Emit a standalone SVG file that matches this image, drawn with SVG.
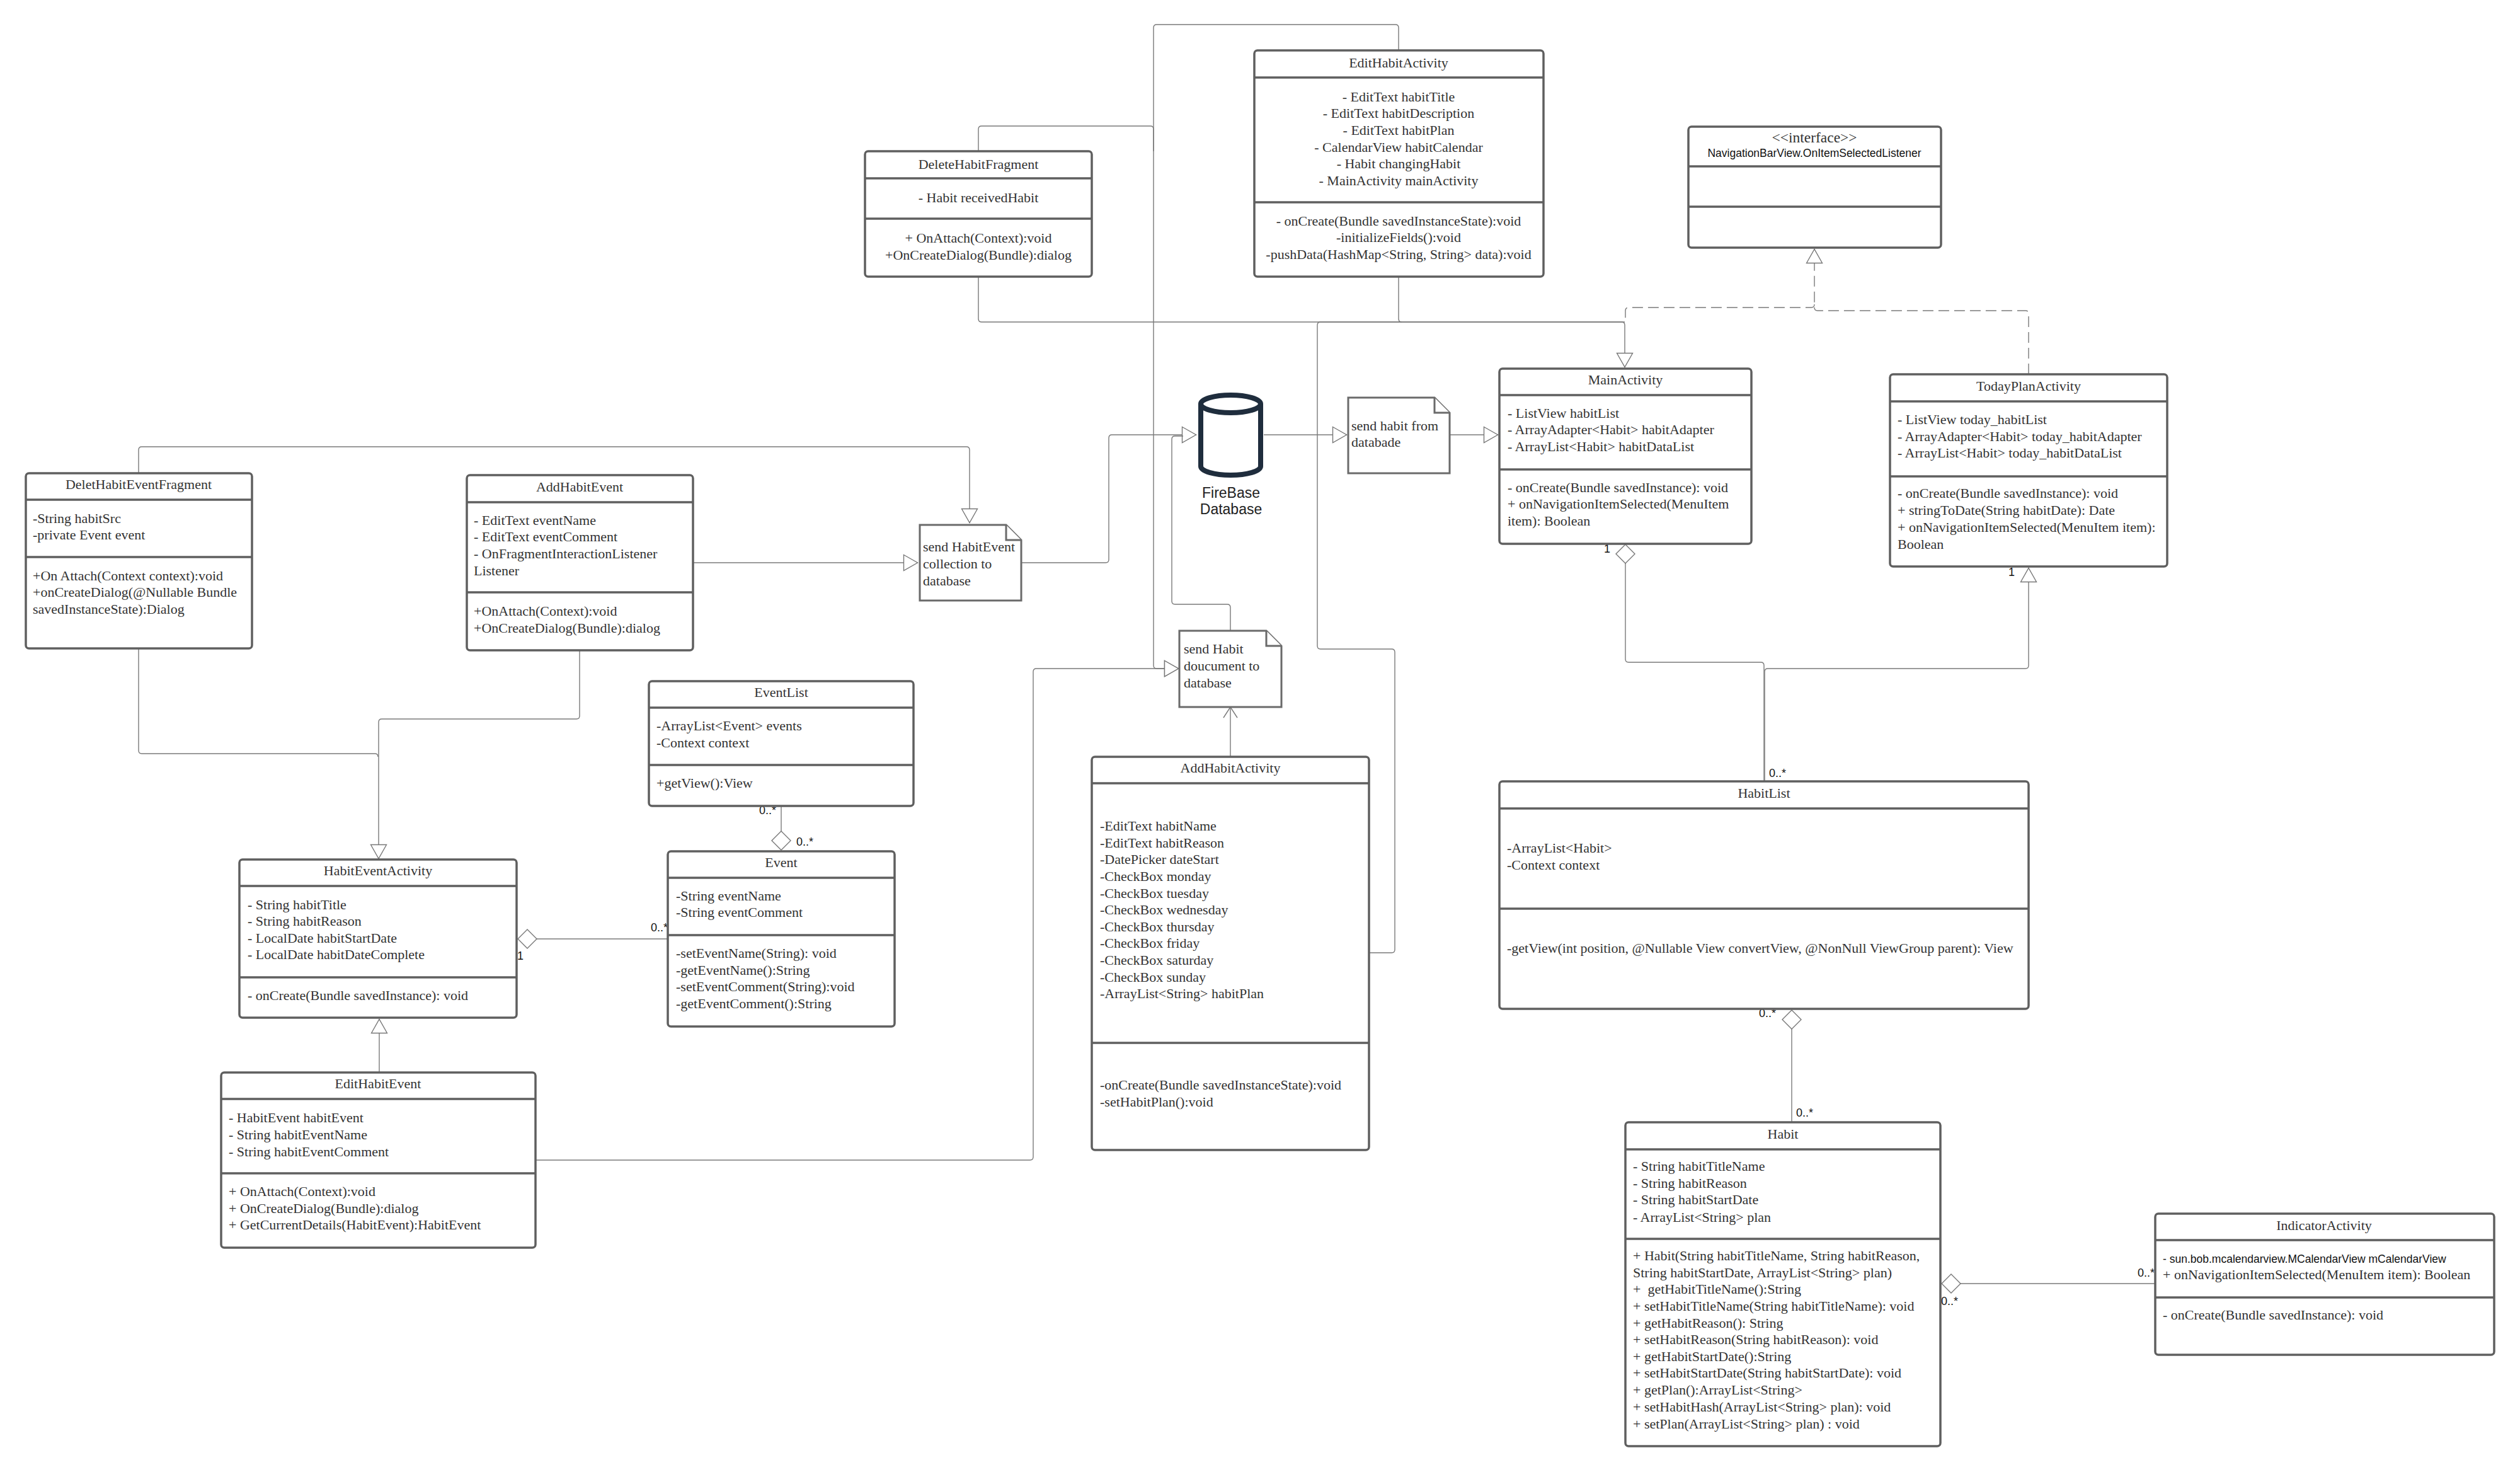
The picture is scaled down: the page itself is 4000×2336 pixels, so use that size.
<svg xmlns="http://www.w3.org/2000/svg" width="4000" height="2336" viewBox="0 0 4000 2336">
<style>
.bg{fill:#fff}
.box{fill:#fff;stroke:#5f5f5f;stroke-width:3.5}
.div{fill:none;stroke:#5f5f5f;stroke-width:3.5}
.note{fill:#fff;stroke:#6a6a6a;stroke-width:3}
.cyl{fill:#fff;stroke:#1f2d3d;stroke-width:8}
.con{fill:none;stroke:#7a7a7a;stroke-width:1.4}
.dash{stroke-dasharray:17 8}
text{font-family:"Liberation Serif","Times New Roman",serif;font-size:22px;fill:#333}
.c{text-anchor:middle}
.s{font-family:"Liberation Sans",Arial,sans-serif;fill:#111}
.m{font-size:18px}
.l{font-size:17.5px}
.db{font-size:23px;fill:#222}
</style>
<defs>
<marker id="tri" markerUnits="userSpaceOnUse" markerWidth="26" markerHeight="30" refX="24" refY="15" orient="auto"><path d="M1.5 2.5L23.500 15L1.500 27.500Z" fill="#fff" stroke="#777" stroke-width="1.400"/></marker>
<marker id="open" markerUnits="userSpaceOnUse" markerWidth="20" markerHeight="28" refX="18" refY="14" orient="auto"><path d="M1 3L18 14L1 25" fill="none" stroke="#777" stroke-width="1.400"/></marker>
<marker id="dia" markerUnits="userSpaceOnUse" markerWidth="34" markerHeight="34" refX="1" refY="17" orient="auto"><path d="M1 17L16 2L31 17L16 32Z" fill="#fff" stroke="#777" stroke-width="1.400"/></marker>
</defs>
<rect class="bg" width="4000" height="2336"/>
<g id="connectors">
<path class="con" marker-end="url(#tri)" d="M2220 80V44Q2220 39 2215 39H1836Q1831 39 1831 44V1056Q1831 1061 1836 1061H1871"/>
<path class="con" d="M1553 240V205Q1553 200 1558 200H1826Q1831 200 1831 205V240"/>
<path class="con" marker-end="url(#tri)" d="M1553 439V506Q1553 511 1558 511H2574Q2579 511 2579 516V583"/>
<path class="con" d="M2220 439V506Q2220 511 2225 511"/>
<path class="con" d="M2579 511H2096Q2091 511 2091 516V1025Q2091 1030 2096 1030H2209Q2214 1030 2214 1035V1507Q2214 1512 2209 1512H2173"/>
<path class="con" marker-end="url(#tri)" d="M2006 690H2138"/>
<path class="con" marker-end="url(#tri)" d="M2301 690H2378"/>
<path class="con" marker-end="url(#tri)" d="M220 750V714Q220 709 225 709H1534Q1539 709 1539 714V830"/>
<path class="con" marker-end="url(#tri)" d="M1100 893H1457"/>
<path class="con" marker-end="url(#tri)" d="M1621 893H1755Q1760 893 1760 888V695Q1760 690 1765 690H1899"/>
<path class="con" d="M1953 1001V964Q1953 959 1948 959H1865Q1860 959 1860 954V697Q1860 692 1865 692H1878"/>
<path class="con" marker-end="url(#tri)" d="M850 1841H1635Q1640 1841 1640 1836V1066Q1640 1061 1645 1061H1871"/>
<path class="con" marker-end="url(#open)" d="M1953 1201V1122"/>
<path class="con" d="M220 1029V1191Q220 1196 225 1196H595Q600 1196 600 1201"/>
<path class="con" marker-end="url(#tri)" d="M920 1032V1136Q920 1141 915 1141H606Q601 1141 601 1146V1363"/>
<path class="con" marker-end="url(#tri)" d="M602 1702V1617"/>
<path class="con" marker-start="url(#dia)" d="M1240 1349V1279"/>
<path class="con" marker-start="url(#dia)" d="M822 1490H1060"/>
<path class="con dash" marker-end="url(#tri)" d="M3220 594V498Q3220 493 3215 493H2885Q2880 493 2880 488V395"/>
<path class="con dash" d="M2880 483Q2880 488 2875 488H2585Q2580 488 2580 493V511"/>
<path class="con" marker-start="url(#dia)" d="M2580 864V1046Q2580 1051 2585 1051H2795Q2800 1051 2800 1056V1240"/>
<path class="con" marker-end="url(#tri)" d="M2801 1240V1066Q2801 1061 2806 1061H3215Q3220 1061 3220 1056V901"/>
<path class="con" marker-start="url(#dia)" d="M2844 1603V1781"/>
<path class="con" marker-start="url(#dia)" d="M3082 2037H3421"/>
</g>
<g id="multiplicities">
<text class="s m" x="1205" y="1292">0..*</text>
<text class="s m" x="1264" y="1342">0..*</text>
<text class="s m" x="1033" y="1478">0..*</text>
<text class="s m" x="821" y="1523">1</text>
<text class="s m" x="2546" y="877">1</text>
<text class="s m" x="3188" y="914">1</text>
<text class="s m" x="2808" y="1233">0..*</text>
<text class="s m" x="2792" y="1614">0..*</text>
<text class="s m" x="2851" y="1772">0..*</text>
<text class="s m" x="3393" y="2026">0..*</text>
<text class="s m" x="3081" y="2071">0..*</text>
</g>
<g id="EditHabitActivity">
<rect class="box" x="1991" y="80" width="459" height="359" rx="5"/>
<path class="div" d="M1991 123H2450M1991 321H2450"/>
<text class="c" x="2220" y="107">EditHabitActivity</text>
<text class="c" x="2220" y="161">- EditText habitTitle</text>
<text class="c" x="2220" y="187">- EditText habitDescription</text>
<text class="c" x="2220" y="214">- EditText habitPlan</text>
<text class="c" x="2220" y="241">- CalendarView habitCalendar</text>
<text class="c" x="2220" y="267">- Habit changingHabit</text>
<text class="c" x="2220" y="294">- MainActivity mainActivity</text>
<text class="c" x="2220" y="358">- onCreate(Bundle savedInstanceState):void</text>
<text class="c" x="2220" y="384">-initializeFields():void</text>
<text class="c" x="2220" y="411">-pushData(HashMap&lt;String, String&gt; data):void</text>
</g>
<g id="DeleteHabitFragment">
<rect class="box" x="1373" y="240" width="360" height="199" rx="5"/>
<path class="div" d="M1373 283H1733M1373 347H1733"/>
<text class="c" x="1553" y="268">DeleteHabitFragment</text>
<text class="c" x="1553" y="321">- Habit receivedHabit</text>
<text class="c" x="1553" y="385">+ OnAttach(Context):void</text>
<text class="c" x="1553" y="412">+OnCreateDialog(Bundle):dialog</text>
</g>
<g id="NavigationBarView">
<rect class="box" x="2680" y="201" width="401" height="192" rx="5"/>
<path class="div" d="M2680 264H3081M2680 328H3081"/>
<text class="c" style="font-size:23.5px" x="2880" y="226">&lt;&lt;interface&gt;&gt;</text>
<text class="c s l" x="2880" y="249">NavigationBarView.OnItemSelectedListener</text>
</g>
<g id="MainActivity">
<rect class="box" x="2380" y="585" width="400" height="278" rx="5"/>
<path class="div" d="M2380 627H2780M2380 745H2780"/>
<text class="c" x="2580" y="610">MainActivity</text>
<text x="2393" y="663">- ListView habitList</text>
<text x="2393" y="689">- ArrayAdapter&lt;Habit&gt; habitAdapter</text>
<text x="2393" y="716">- ArrayList&lt;Habit&gt; habitDataList</text>
<text x="2393" y="781">- onCreate(Bundle savedInstance): void</text>
<text x="2393" y="807">+ onNavigationItemSelected(MenuItem</text>
<text x="2393" y="834">item): Boolean</text>
</g>
<g id="TodayPlanActivity">
<rect class="box" x="3000" y="594" width="440" height="305" rx="5"/>
<path class="div" d="M3000 637H3440M3000 756H3440"/>
<text class="c" x="3220" y="620">TodayPlanActivity</text>
<text x="3012" y="673">- ListView today_habitList</text>
<text x="3012" y="700">- ArrayAdapter&lt;Habit&gt; today_habitAdapter</text>
<text x="3012" y="726">- ArrayList&lt;Habit&gt; today_habitDataList</text>
<text x="3012" y="790">- onCreate(Bundle savedInstance): void</text>
<text x="3012" y="817">+ stringToDate(String habitDate): Date</text>
<text x="3012" y="844">+ onNavigationItemSelected(MenuItem item):</text>
<text x="3012" y="871">Boolean</text>
</g>
<g id="FireBaseDatabase">
<path class="cyl" d="M1906 641a47.500 14 0 0 1 95 0a47.500 14 0 0 1-95 0v99a47.500 14 0 0 0 95 0v-99"/>
<text class="c s db" x="1954" y="790">FireBase</text>
<text class="c s db" x="1954" y="816">Database</text>
</g>
<g id="NoteSendHabitFromDatabase">
<path class="note" d="M2140 631H2277L2301 655V751H2140Z"/>
<path class="note" d="M2277 631V655H2301"/>
<text x="2145" y="683">send habit from</text>
<text x="2145" y="709">databade</text>
</g>
<g id="NoteSendHabitEvent">
<path class="note" d="M1460 833H1597L1621 857V953H1460Z"/>
<path class="note" d="M1597 833V857H1621"/>
<text x="1465" y="875">send HabitEvent</text>
<text x="1465" y="902">collection to</text>
<text x="1465" y="929">database</text>
</g>
<g id="NoteSendHabitDocument">
<path class="note" d="M1872 1001H2010L2034 1025V1122H1872Z"/>
<path class="note" d="M2010 1001V1025H2034"/>
<text x="1879" y="1037">send Habit</text>
<text x="1879" y="1064">doucument to</text>
<text x="1879" y="1091">database</text>
</g>
<g id="AddHabitActivity">
<rect class="box" x="1733" y="1201" width="440" height="624" rx="5"/>
<path class="div" d="M1733 1243H2173M1733 1655H2173"/>
<text class="c" x="1953" y="1226">AddHabitActivity</text>
<text x="1746" y="1318">-EditText habitName</text>
<text x="1746" y="1345">-EditText habitReason</text>
<text x="1746" y="1371">-DatePicker dateStart</text>
<text x="1746" y="1398">-CheckBox monday</text>
<text x="1746" y="1425">-CheckBox tuesday</text>
<text x="1746" y="1451">-CheckBox wednesday</text>
<text x="1746" y="1478">-CheckBox thursday</text>
<text x="1746" y="1504">-CheckBox friday</text>
<text x="1746" y="1531">-CheckBox saturday</text>
<text x="1746" y="1558">-CheckBox sunday</text>
<text x="1746" y="1584">-ArrayList&lt;String&gt; habitPlan</text>
<text x="1746" y="1729">-onCreate(Bundle savedInstanceState):void</text>
<text x="1746" y="1756">-setHabitPlan():void</text>
</g>
<g id="DeletHabitEventFragment">
<rect class="box" x="41" y="751" width="359" height="278" rx="5"/>
<path class="div" d="M41 793H400M41 884H400"/>
<text class="c" x="220" y="776">DeletHabitEventFragment</text>
<text x="52" y="830">-String habitSrc</text>
<text x="52" y="856">-private Event event</text>
<text x="52" y="921">+On Attach(Context context):void</text>
<text x="52" y="947">+onCreateDialog(@Nullable Bundle</text>
<text x="52" y="974">savedInstanceState):Dialog</text>
</g>
<g id="AddHabitEvent">
<rect class="box" x="741" y="754" width="359" height="278" rx="5"/>
<path class="div" d="M741 797H1100M741 940H1100"/>
<text class="c" x="920" y="780">AddHabitEvent</text>
<text x="752" y="833">- EditText eventName</text>
<text x="752" y="859">- EditText eventComment</text>
<text x="752" y="886">- OnFragmentInteractionListener</text>
<text x="752" y="913">Listener</text>
<text x="752" y="977">+OnAttach(Context):void</text>
<text x="752" y="1004">+OnCreateDialog(Bundle):dialog</text>
</g>
<g id="EventList">
<rect class="box" x="1030" y="1081" width="420" height="198" rx="5"/>
<path class="div" d="M1030 1123H1450M1030 1214H1450"/>
<text class="c" x="1240" y="1106">EventList</text>
<text x="1042" y="1159">-ArrayList&lt;Event&gt; events</text>
<text x="1042" y="1186">-Context context</text>
<text x="1042" y="1250">+getView():View</text>
</g>
<g id="Event">
<rect class="box" x="1060" y="1351" width="360" height="278" rx="5"/>
<path class="div" d="M1060 1393H1420M1060 1484H1420"/>
<text class="c" x="1240" y="1376">Event</text>
<text x="1073" y="1429">-String eventName</text>
<text x="1073" y="1455">-String eventComment</text>
<text x="1073" y="1520">-setEventName(String): void</text>
<text x="1073" y="1547">-getEventName():String</text>
<text x="1073" y="1573">-setEventComment(String):void</text>
<text x="1073" y="1600">-getEventComment():String</text>
</g>
<g id="HabitEventActivity">
<rect class="box" x="380" y="1364" width="440" height="251" rx="5"/>
<path class="div" d="M380 1406H820M380 1551H820"/>
<text class="c" x="600" y="1389">HabitEventActivity</text>
<text x="393" y="1443">- String habitTitle</text>
<text x="393" y="1469">- String habitReason</text>
<text x="393" y="1496">- LocalDate habitStartDate</text>
<text x="393" y="1522">- LocalDate habitDateComplete</text>
<text x="393" y="1587">- onCreate(Bundle savedInstance): void</text>
</g>
<g id="EditHabitEvent">
<rect class="box" x="351" y="1702" width="499" height="278" rx="5"/>
<path class="div" d="M351 1744H850M351 1862H850"/>
<text class="c" x="600" y="1727">EditHabitEvent</text>
<text x="363" y="1781">- HabitEvent habitEvent</text>
<text x="363" y="1808">- String habitEventName</text>
<text x="363" y="1835">- String habitEventComment</text>
<text x="363" y="1898">+ OnAttach(Context):void</text>
<text x="363" y="1925">+ OnCreateDialog(Bundle):dialog</text>
<text x="363" y="1951">+ GetCurrentDetails(HabitEvent):HabitEvent</text>
</g>
<g id="HabitList">
<rect class="box" x="2380" y="1240" width="840" height="361" rx="5"/>
<path class="div" d="M2380 1283H3220M2380 1442H3220"/>
<text class="c" x="2800" y="1266">HabitList</text>
<text x="2392" y="1353">-ArrayList&lt;Habit&gt;</text>
<text x="2392" y="1380">-Context context</text>
<text x="2392" y="1512">-getView(int position, @Nullable View convertView, @NonNull ViewGroup parent): View</text>
</g>
<g id="Habit">
<rect class="box" x="2580" y="1781" width="500" height="514" rx="5"/>
<path class="div" d="M2580 1824H3080M2580 1966H3080"/>
<text class="c" x="2830" y="1807">Habit</text>
<text x="2592" y="1858">- String habitTitleName</text>
<text x="2592" y="1885">- String habitReason</text>
<text x="2592" y="1911">- String habitStartDate</text>
<text x="2592" y="1939">- ArrayList&lt;String&gt; plan</text>
<text x="2592" y="2000">+ Habit(String habitTitleName, String habitReason,</text>
<text x="2592" y="2027">String habitStartDate, ArrayList&lt;String&gt; plan)</text>
<text x="2592" y="2053" xml:space="preserve">+  getHabitTitleName():String</text>
<text x="2592" y="2080">+ setHabitTitleName(String habitTitleName): void</text>
<text x="2592" y="2107">+ getHabitReason(): String</text>
<text x="2592" y="2133">+ setHabitReason(String habitReason): void</text>
<text x="2592" y="2160">+ getHabitStartDate():String</text>
<text x="2592" y="2186">+ setHabitStartDate(String habitStartDate): void</text>
<text x="2592" y="2213">+ getPlan():ArrayList&lt;String&gt;</text>
<text x="2592" y="2240">+ setHabitHash(ArrayList&lt;String&gt; plan): void</text>
<text x="2592" y="2267">+ setPlan(ArrayList&lt;String&gt; plan) : void</text>
</g>
<g id="IndicatorActivity">
<rect class="box" x="3421" y="1926" width="538" height="224" rx="5"/>
<path class="div" d="M3421 1968H3959M3421 2059H3959"/>
<text class="c" x="3689" y="1952">IndicatorActivity</text>
<text class="s l" x="3433" y="2004">- sun.bob.mcalendarview.MCalendarView mCalendarView</text>
<text x="3433" y="2030">+ onNavigationItemSelected(MenuItem item): Boolean</text>
<text x="3433" y="2094">- onCreate(Bundle savedInstance): void</text>
</g>
</svg>
